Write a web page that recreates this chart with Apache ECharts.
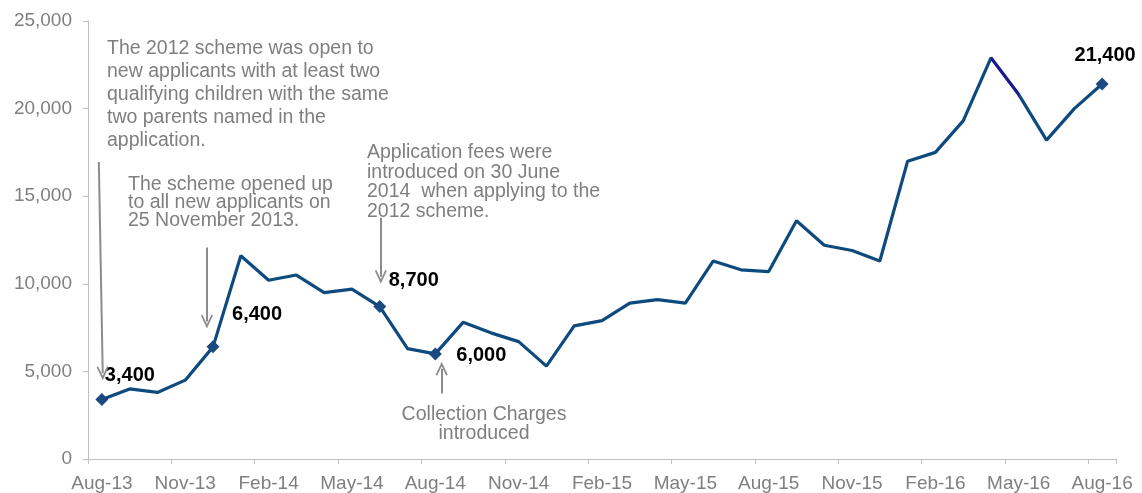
<!DOCTYPE html>
<html>
    <head lang="en"><meta charset="utf-8">
        <title>2012 scheme applications</title>
        <style>
            html, body { margin: 0; padding: 0; background: #fff; }
            #main { width: 1142px; height: 493px; }
        </style>
    </head>
    <body>
        <div id="main"></div>
    </body>
    <script type="text/javascript" src="https://cdn.jsdelivr.net/npm/echarts@6/dist/echarts.min.js"></script>
    <script>
        // monthly data
        var months = ['Aug-13','Sep-13','Oct-13','Nov-13','Dec-13','Jan-14','Feb-14','Mar-14','Apr-14','May-14','Jun-14','Jul-14',
                      'Aug-14','Sep-14','Oct-14','Nov-14','Dec-14','Jan-15','Feb-15','Mar-15','Apr-15','May-15','Jun-15','Jul-15',
                      'Aug-15','Sep-15','Oct-15','Nov-15','Dec-15','Jan-16','Feb-16','Mar-16','Apr-16','May-16','Jun-16','Jul-16','Aug-16'];
        var applications = [3400, 4000, 3800, 4500, 6400, 11600, 10200, 10500, 9500, 9700, 8700, 6300,
                            6000, 7800, 7200, 6700, 5300, 7600, 7900, 8900, 9100, 8900, 11300, 10800,
                            10700, 13600, 12200, 11900, 11300, 17000, 17500, 19300, 22900, 20800, 18200, 20000, 21400];
        // points that carry a marker and a value label
        var labelled = [0, 4, 10, 12, 36];
        var yTicks = [0, 5000, 10000, 15000, 20000, 25000];

        var lineColor = '#0e4a7e';
        var grey = '#7f7f7f';
        var font = 'Liberation Sans, Arial, sans-serif';

        // label offsets (px) from each marked point
        var labelOffset = {0: [28, -24], 4: [44, -32], 10: [34, -26], 12: [46, 2], 36: [3, -29]};

        var seriesData = applications.map(function (v, i) {
            if (labelled.indexOf(i) < 0) {
                return {value: v};
            }
            return {
                value: v,
                symbol: 'diamond',
                symbolSize: 13,
                itemStyle: {color: '#1a4a80'},
                label: {
                    show: true,
                    position: 'inside',
                    offset: labelOffset[i],
                    formatter: function (p) { return p.value.toLocaleString('en-US'); },
                    color: '#000',
                    fontWeight: 'bold',
                    fontSize: 20,
                    fontFamily: font
                }
            };
        });

        // open V arrow head, pointing up
        var arrowHead = 'path://M6,0 L12,12 L10.6,13 L6,4.2 L1.4,13 L0,12 Z';

        var myChart = echarts.init(document.getElementById('main'));

        var option = {
            animation: false,
            grid: {left: 88, right: 26, top: 21, bottom: 31},
            xAxis: [{
                type: 'category',
                data: months,
                boundaryGap: true,
                axisLine: {lineStyle: {color: '#bfbfbf', width: 1}},
                axisTick: {show: true, interval: 2, length: 5, lineStyle: {color: '#bfbfbf'}},
                axisLabel: {interval: 2, color: grey, fontSize: 19, fontFamily: font, margin: 15}
            }, {
                // hidden axis used only to place the annotation arrows
                type: 'value',
                min: -0.5,
                max: 36.5,
                show: false
            }],
            yAxis: {
                type: 'value',
                min: yTicks[0],
                max: yTicks[yTicks.length - 1],
                interval: 5000,
                splitLine: {show: false},
                axisLine: {show: true, onZero: false, lineStyle: {color: '#bfbfbf', width: 1}},
                axisTick: {show: true, length: 5, lineStyle: {color: '#bfbfbf'}},
                axisLabel: {
                    color: grey, fontSize: 19, fontFamily: font, margin: 16,
                    formatter: function (v) { return v.toLocaleString('en-US'); }
                }
            },
            // the Apr-16 to May-16 segment is drawn darker in the original
            visualMap: {
                type: 'piecewise',
                show: false,
                seriesIndex: 0,
                dimension: 0,
                pieces: [
                    {lt: 32, color: lineColor},
                    {gte: 32, lt: 33, color: '#1a1a8c'},
                    {gte: 33, color: lineColor}
                ]
            },
            series: [{
                name: 'Applications',
                type: 'line',
                data: seriesData,
                symbol: 'none',
                showAllSymbol: true,
                lineStyle: {width: 3.2},
                silent: true,
                z: 3
            }, {
                name: 'arrows',
                type: 'line',
                xAxisIndex: 1,
                data: [],
                silent: true,
                markLine: {
                    silent: true,
                    symbol: ['none', arrowHead],
                    symbolSize: [12, 14],
                    label: {show: false},
                    lineStyle: {color: '#8c8c8c', width: 2, type: 'solid'},
                    data: [
                        [{coord: [-0.11, 16950]}, {coord: [0.03, 4900]}],
                        [{coord: [3.78, 12075]}, {coord: [3.78, 7850]}],
                        [{coord: [10.04, 13775]}, {coord: [10.04, 10400]}],
                        [{coord: [12.23, 3741]}, {coord: [12.23, 5150]}]
                    ]
                }
            }],
            graphic: [{
                type: 'text', x: 107, y: 37, silent: true,
                style: {
                    text: 'The 2012 scheme was open to\nnew applicants with at least two\nqualifying children with the same\ntwo parents named in the\napplication.',
                    fill: grey, fontSize: 19.5, fontFamily: font, lineHeight: 23, textVerticalAlign: 'top'
                }
            }, {
                type: 'text', x: 128, y: 176, silent: true,
                style: {
                    text: 'The scheme opened up\nto all new applicants on\n25 November 2013.',
                    fill: grey, fontSize: 19.5, fontFamily: font, lineHeight: 18, textVerticalAlign: 'top'
                }
            }, {
                type: 'text', x: 367, y: 143, silent: true,
                style: {
                    text: 'Application fees were\nintroduced on 30 June\n2014  when applying to the\n2012 scheme.',
                    fill: grey, fontSize: 19.5, fontFamily: font, lineHeight: 19.5, textVerticalAlign: 'top'
                }
            }, {
                type: 'text', x: 484, y: 405, silent: true,
                style: {
                    text: 'Collection Charges\nintroduced',
                    fill: grey, fontSize: 19.5, fontFamily: font, lineHeight: 19, textAlign: 'center', textVerticalAlign: 'top'
                }
            }]
        };

        myChart.setOption(option);
    </script>
</html>
